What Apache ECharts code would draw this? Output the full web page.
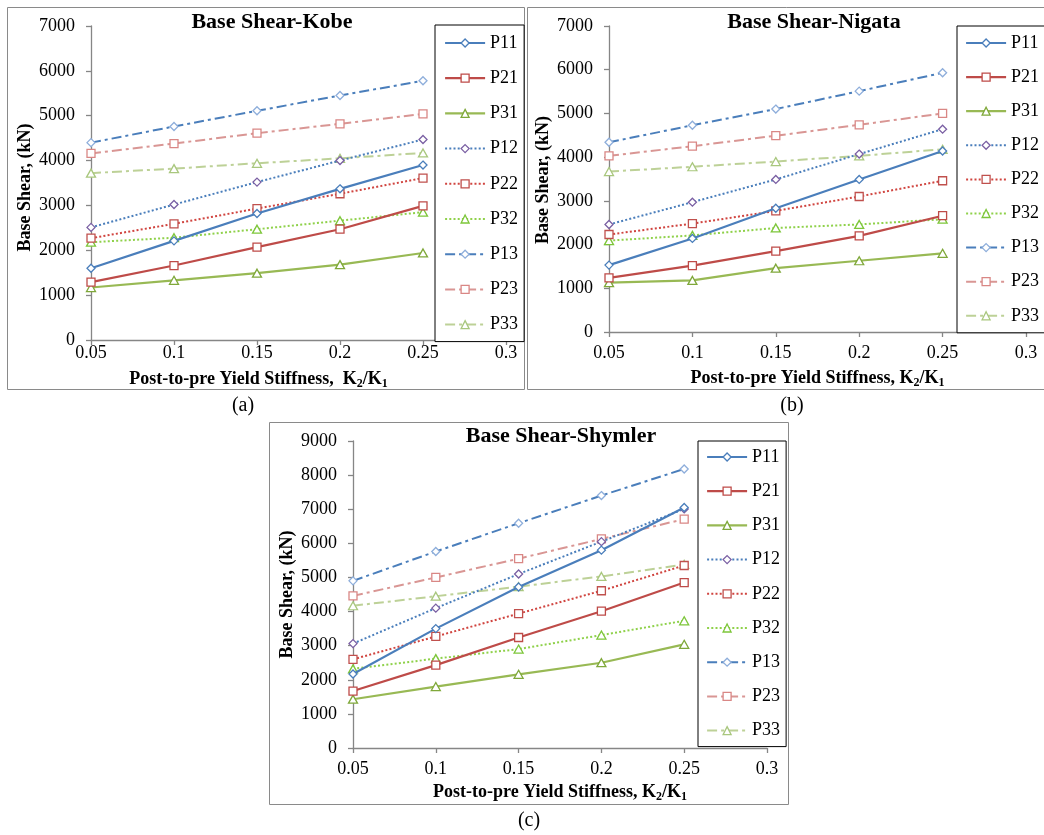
<!DOCTYPE html>
<html>
<head>
<meta charset="utf-8">
<title>Base Shear vs Post-to-pre Yield Stiffness</title>
<script src="https://cdn.jsdelivr.net/npm/echarts@6/dist/echarts.min.js"></script>
<style>
  html, body { margin: 0; padding: 0; background: #ffffff; }
  #chart { width: 1044px; height: 835px; }
</style>
</head>
<body>
<div id="chart"></div>
<script>
// ---- data ---------------------------------------------------------------
const stiffness = [0.05, 0.1, 0.15, 0.2, 0.25];           // K2/K1
const seriesNames = ['P11', 'P21', 'P31', 'P12', 'P22', 'P32', 'P13', 'P23', 'P33'];

// Kobe record, base shear (kN)
const kobeP11 = [1600, 2210, 2820, 3370, 3900];
const kobeP21 = [1290, 1660, 2070, 2470, 2990];
const kobeP31 = [1170, 1330, 1490, 1680, 1940];
const kobeP12 = [2510, 3020, 3520, 4000, 4470];
const kobeP22 = [2270, 2590, 2930, 3260, 3610];
const kobeP32 = [2180, 2280, 2470, 2660, 2850];
const kobeP13 = [4400, 4760, 5110, 5450, 5780];
const kobeP23 = [4160, 4380, 4610, 4820, 5040];
const kobeP33 = [3720, 3820, 3940, 4050, 4170];

// Nigata record, base shear (kN)
const nigataP11 = [1530, 2140, 2830, 3490, 4140];
const nigataP21 = [1240, 1520, 1850, 2200, 2660];
const nigataP31 = [1130, 1180, 1460, 1630, 1800];
const nigataP12 = [2460, 2970, 3490, 4070, 4640];
const nigataP22 = [2230, 2480, 2770, 3100, 3460];
const nigataP32 = [2090, 2210, 2380, 2460, 2580];
const nigataP13 = [4340, 4730, 5100, 5510, 5930];
const nigataP23 = [4030, 4250, 4490, 4740, 5000];
const nigataP33 = [3670, 3780, 3900, 4030, 4180];

// Shymler record, base shear (kN)
const shymlerP11 = [2170, 3500, 4720, 5800, 7050];
const shymlerP21 = [1670, 2430, 3240, 4010, 4850];
const shymlerP31 = [1430, 1800, 2160, 2500, 3040];
const shymlerP12 = [3060, 4100, 5100, 6050, 7010];
const shymlerP22 = [2600, 3270, 3940, 4610, 5350];
const shymlerP32 = [2320, 2620, 2900, 3310, 3730];
const shymlerP13 = [4900, 5760, 6590, 7400, 8180];
const shymlerP23 = [4460, 5000, 5550, 6130, 6710];
const shymlerP33 = [4170, 4450, 4730, 5030, 5380];

// axis ranges / tick steps
const xMin = 0.05, xMax = 0.3, xStep = 0.05;
const yMaxes = [7000, 7000, 9000];
const yStep = 1000;

const panelTitles = ['Base Shear-Kobe', 'Base Shear-Nigata', 'Base Shear-Shymler'];
const panelTags = ['(a)', '(b)', '(c)'];
const yAxisTitle = 'Base Shear, (kN)';

const panelValues = [
  [kobeP11, kobeP21, kobeP31, kobeP12, kobeP22, kobeP32, kobeP13, kobeP23, kobeP33],
  [nigataP11, nigataP21, nigataP31, nigataP12, nigataP22, nigataP32, nigataP13, nigataP23, nigataP33],
  [shymlerP11, shymlerP21, shymlerP31, shymlerP12, shymlerP22, shymlerP32, shymlerP13, shymlerP23, shymlerP33]
];

// ---- styling ------------------------------------------------------------
const FONT = '"Liberation Serif", "Times New Roman", serif';
const DOT = [2, 2.2];
const DASHDOT = [10, 4, 3, 4];

const seriesLook = {
  P11: { line: '#4A7EBB', mark: '#4A7EBB', type: 'solid', width: 2.2, symbol: 'diamond', size: 8 },
  P21: { line: '#BE4B48', mark: '#BE4B48', type: 'solid', width: 2.2, symbol: 'rect',    size: 8 },
  P31: { line: '#98B954', mark: '#7FA83A', type: 'solid', width: 2.2, symbol: 'triangle', size: [9, 8] },
  P12: { line: '#4A7EBB', mark: '#7A5FA3', type: DOT,     width: 2,   symbol: 'diamond', size: 8 },
  P22: { line: '#D0443F', mark: '#C0504D', type: DOT,     width: 2,   symbol: 'rect',    size: 8 },
  P32: { line: '#8FD14A', mark: '#7DC63A', type: DOT,     width: 2,   symbol: 'triangle', size: [9, 8] },
  P13: { line: '#4A7EBB', mark: '#8EAEDB', type: DASHDOT, width: 2,   symbol: 'diamond', size: 8 },
  P23: { line: '#D99694', mark: '#D98785', type: DASHDOT, width: 2,   symbol: 'rect',    size: 8 },
  P33: { line: '#BDD197', mark: '#A9C77E', type: DASHDOT, width: 2,   symbol: 'triangle', size: [9, 8] }
};

const layout = [
  { grid: { left: 91, top: 26, width: 415, height: 314 },
    title: { x: 272, y: 11 },
    legend: { left: 435, top: 25, gap: 17.2, padding: [9, 6, 8, 9] },
    xLabelMargin: 4, xNameGap: 28, xNamePad: [0, 80, 0, 0], xNameSpace: '  ',
    yNamePad: [0, 9, 0, 0],
    frame: { x: 7, y: 7, w: 517, h: 382 },
    tag: { x: 243, y: 406 } },
  { grid: { left: 609, top: 26, width: 417, height: 306 },
    title: { x: 814, y: 11 },
    legend: { left: 957, top: 26, gap: 16.1, padding: [8, 6, 8, 8] },
    xLabelMargin: 12, xNameGap: 35, xNamePad: [0, 0, 0, 0], xNameSpace: ' ',
    yNamePad: [0, 2, 0, 0],
    frame: { x: 527, y: 7, w: 530, h: 382 },
    tag: { x: 792, y: 406 } },
  { grid: { left: 353, top: 441, width: 414, height: 307 },
    title: { x: 561, y: 425 },
    legend: { left: 698, top: 441, gap: 16.2, padding: [7, 6, 7, 8] },
    xLabelMargin: 12, xNameGap: 33, xNamePad: [0, 0, 0, 0], xNameSpace: ' ',
    yNamePad: [0, 0, 0, 0],
    frame: { x: 269, y: 422, w: 519, h: 382 },
    tag: { x: 529, y: 821 } }
];

// ---- option -------------------------------------------------------------
const axisGrey = '#868686';
const option = {
  animation: false,
  backgroundColor: '#ffffff',
  title: [], grid: [], xAxis: [], yAxis: [], legend: [], series: [], graphic: []
};

layout.forEach((p, i) => {
  option.grid.push(Object.assign({ containLabel: false }, p.grid));

  option.title.push({
    text: panelTitles[i],
    left: p.title.x, top: p.title.y, textAlign: 'center', padding: 0,
    textStyle: { fontFamily: FONT, fontSize: 22, fontWeight: 'bold', color: '#000' }
  });

  option.xAxis.push({
    type: 'value', gridIndex: i,
    min: xMin, max: xMax, interval: xStep,
    name: '{t|Post-to-pre Yield Stiffness,' + p.xNameSpace + 'K}{s|2}{t|/K}{s|1}',
    nameLocation: 'middle', nameGap: p.xNameGap,
    nameTextStyle: {
      padding: p.xNamePad,
      rich: {
        t: { fontFamily: FONT, fontSize: 18, fontWeight: 'bold', color: '#000', lineHeight: 22 },
        s: { fontFamily: FONT, fontSize: 12, fontWeight: 'bold', color: '#000', lineHeight: 22, verticalAlign: 'bottom' }
      }
    },
    splitLine: { show: false },
    axisLine: { show: true, onZero: false, lineStyle: { color: axisGrey, width: 1.3 } },
    axisTick: { show: true, inside: false, length: 5, lineStyle: { color: axisGrey, width: 1.3 } },
    axisLabel: {
      margin: p.xLabelMargin, fontFamily: FONT, fontSize: 18, color: '#000',
      showMinLabel: true, showMaxLabel: true,
      formatter: v => String(+v.toFixed(2))
    }
  });

  option.yAxis.push({
    type: 'value', gridIndex: i,
    min: 0, max: yMaxes[i], interval: yStep,
    name: yAxisTitle, nameLocation: 'middle', nameGap: 57,
    nameTextStyle: { fontFamily: FONT, fontSize: 18, fontWeight: 'bold', color: '#000', padding: p.yNamePad },
    splitLine: { show: false },
    axisLine: { show: true, lineStyle: { color: axisGrey, width: 1.3 } },
    axisTick: { show: true, inside: false, length: 5, lineStyle: { color: axisGrey, width: 1.3 } },
    axisLabel: { margin: 16, fontFamily: FONT, fontSize: 18, color: '#000', formatter: v => String(v) }
  });

  option.legend.push({
    orient: 'vertical',
    left: p.legend.left, top: p.legend.top,
    itemWidth: 40, itemHeight: 10, itemGap: p.legend.gap,
    padding: p.legend.padding,
    backgroundColor: '#ffffff', borderColor: '#000000', borderWidth: 1, borderRadius: 0,
    selectedMode: false,
    data: seriesNames.map(name => ({
      name: name,
      itemStyle: { color: '#ffffff', borderColor: seriesLook[name].mark, borderWidth: 1.3 },
      lineStyle: { color: seriesLook[name].line, width: seriesLook[name].width, type: seriesLook[name].type }
    })),
    textStyle: { fontFamily: FONT, fontSize: 18, color: '#000', lineHeight: 18 }
  });

  seriesNames.forEach((name, s) => {
    const look = seriesLook[name];
    option.series.push({
      type: 'line', name: name,
      xAxisIndex: i, yAxisIndex: i,
      data: stiffness.map((k, j) => [k, panelValues[i][s][j]]),
      symbol: look.symbol, symbolSize: look.size, showSymbol: true,
      itemStyle: { color: '#ffffff', borderColor: look.mark, borderWidth: 1.3 },
      lineStyle: { color: look.line, width: look.width, type: look.type },
      emphasis: { disabled: true },
      z: 2 + (8 - s) * 0.01
    });
  });

  // panel frame and sub-figure tag
  option.graphic.push({
    type: 'rect', silent: true, z: -1,
    shape: { x: p.frame.x + 0.5, y: p.frame.y + 0.5, width: p.frame.w, height: p.frame.h },
    style: { fill: null, stroke: '#8a8a8a', lineWidth: 1 }
  });
  option.graphic.push({
    type: 'text', silent: true,
    x: p.tag.x, y: p.tag.y,
    style: { text: panelTags[i], font: '20px ' + FONT, fill: '#000', align: 'center', verticalAlign: 'middle' }
  });
});

const chart = echarts.init(document.getElementById('chart'), null, { renderer: 'canvas' });
chart.setOption(option);
</script>
</body>
</html>
